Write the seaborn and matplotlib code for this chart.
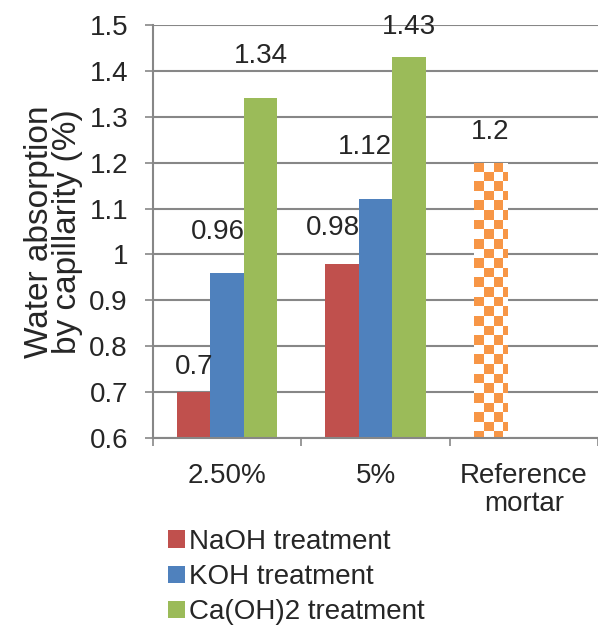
import numpy as np
import pandas as pd
import matplotlib
matplotlib.use("Agg")
import matplotlib.pyplot as plt
import seaborn as sns
from matplotlib.colors import ListedColormap
from matplotlib.patches import Patch, Rectangle

categories = ["2.50%", "5%", "Reference\nmortar"]
series = ["NaOH treatment", "KOH treatment", "Ca(OH)2 treatment"]
naoh = [0.70, 0.98, 1.20]
koh = [0.96, 1.12, 0.60]
caoh2 = [1.34, 1.43, 0.60]
label_texts = [["0.7", "0.98", "1.2"], ["0.96", "1.12", None], ["1.34", "1.43", None]]

colors = ["#C0504D", "#4F81BD", "#9BBB59"]
checker_color = "#F79646"
grid_color = "#878787"

df = pd.DataFrame({
    "category": categories * 3,
    "series": [s for s in series for _ in categories],
    "value": naoh + koh + caoh2,
})

sns.set_style("white")
plt.rcParams["font.family"] = ["Liberation Sans", "DejaVu Sans"]
fs = 20

fig = plt.figure(figsize=(5.98, 6.28), dpi=100)
ax = fig.add_axes([153/598, 1 - 438/628, (598 - 153)/598, (438 - 25)/628])

sns.barplot(data=df, x="category", y="value", hue="series", order=categories,
            hue_order=series, palette=colors, width=0.676, gap=0, ax=ax,
            legend=False, saturation=1, edgecolor="none", linewidth=0)

ax.set_ylim(0.6, 1.5)
ax.set_xlim(-0.5, 2.5)
ax.set_yticks(np.round(np.arange(0.6, 1.51, 0.1), 1))
ax.set_yticklabels(["0.6", "0.7", "0.8", "0.9", "1", "1.1", "1.2", "1.3", "1.4", "1.5"])
ax.yaxis.grid(True, color=grid_color, linewidth=1.5)
ax.set_axisbelow(True)
for s in ["top", "right"]:
    ax.spines[s].set_visible(False)
for s in ["left", "bottom"]:
    ax.spines[s].set_color(grid_color)
    ax.spines[s].set_linewidth(1.5)
ax.tick_params(axis="y", length=6, width=1.2, color=grid_color, labelsize=fs,
               pad=12, left=True, direction="out")
ax.set_xticks(range(len(categories)))
ax.set_xticklabels(categories, fontsize=fs, linespacing=1.1)
ax.tick_params(axis="x", which="major", length=0, pad=18)
ax.set_xticks([-0.5, 0.5, 1.5, 2.5], minor=True)
ax.tick_params(axis="x", which="minor", length=6, width=1.2, color=grid_color,
               bottom=True, direction="out")
ax.set_xlabel("")
ax.set_ylabel("Water absorption\nby capillarity (%)", fontsize=24, linespacing=0.9)
ax.yaxis.set_label_coords(-0.157, 0.5)

bars = list(ax.patches)
nh, nc = len(series), len(categories)
grid_bars = [[bars[h * nc + c] for c in range(nc)] for h in range(nh)]

# checkered reference bar
ref = grid_bars[0][2]
ref.set_facecolor("white")
x0, w = ref.get_x(), ref.get_width()
top = ref.get_height()
cell_x = 9.6 / 148.3
cell_y = 9.6 / 458.9
ncols, nrows = 6, 40
checker = (np.add.outer(np.arange(nrows), np.arange(ncols)) % 2).astype(float)
cmap = ListedColormap([checker_color, "white"])
im = ax.imshow(checker, cmap=cmap,
               extent=[x0, x0 + ncols * cell_x, top - nrows * cell_y, top],
               origin="upper", aspect="auto", interpolation="nearest", zorder=2)
clip = Rectangle((x0, 0.6), w, top - 0.6, transform=ax.transData)
im.set_clip_path(clip)
ax.set_xlim(-0.5, 2.5)
ax.set_ylim(0.6, 1.5)

# value labels (offsets in data units, x shifts in category units)
label_dy = [[0.055, 0.078, 0.067], [0.089, 0.114, 0], [0.092, 0.066, 0]]
label_dx = [[0.0, -0.06, 0.0], [-0.06, -0.07, 0], [0.0, 0.0, 0]]
vals = [naoh, koh, caoh2]
for h in range(nh):
    for c in range(nc):
        t = label_texts[h][c]
        if t is None:
            continue
        b = grid_bars[h][c]
        ax.text(b.get_x() + b.get_width() / 2 + label_dx[h][c], vals[h][c] + label_dy[h][c], t,
                ha="center", va="center", fontsize=fs, clip_on=False, zorder=5)

handles = [Patch(facecolor=col, edgecolor="none") for col in colors]
fig.legend(handles, series, loc="upper left", bbox_to_anchor=(168/598, 1 - 529/628),
           frameon=False, fontsize=fs, handlelength=0.6, handleheight=0.6,
           handletextpad=0.15, labelspacing=0.33, borderaxespad=0, borderpad=0)

fig.savefig("out.png", dpi=100)
